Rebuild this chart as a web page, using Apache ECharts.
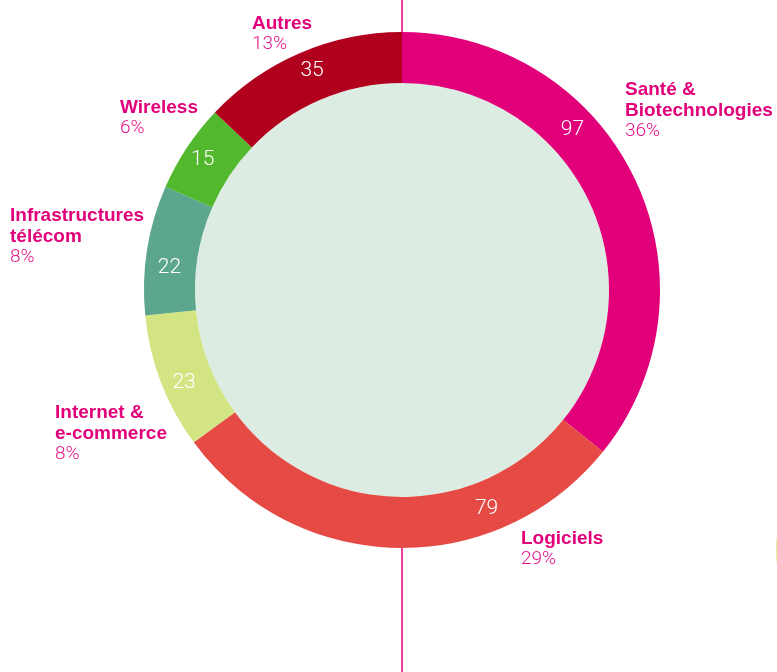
<!DOCTYPE html>
<html>
<head>
<meta charset="utf-8">
<script src="https://cdn.jsdelivr.net/npm/echarts@6/dist/echarts.min.js"></script>
<style>
    html, body { margin: 0; padding: 0; background: #fff; }
    #chart { width: 777px; height: 672px; }
</style>
</head>
<body>
<div id="chart"></div>
<script>
const categories = [
    "Santé &\nBiotechnologies",
    "Logiciels",
    "Internet &\ne-commerce",
    "Infrastructures\ntélécom",
    "Wireless",
    "Autres",
]
const values = [97, 79, 23, 22, 15, 35]
const colors = ["#e2007a", "#e64a44", "#d3e482", "#5ba68c", "#52b82e", "#b0001d"]

// hand placed label blocks (top-left), as in the original layout
const labelPos = [[625, 79], [521, 528], [55, 402], [10, 205], [120, 97], [252, 13]]
// nudges for the value labels inside the ring
const valueShift = [[-42, -59], [90, -17], [2, 9], [0, 14], [-3, 0], [3, -3]]

const total = values.reduce((a, b) => a + b, 0)
const center = [402, 290]
const radius = [207, 258]

const chart = echarts.init(document.getElementById("chart"))

const option = {
    animation: false,
    graphic: [
        {
            type: "line",
            z: -10,
            shape: { x1: center[0], y1: 0, x2: center[0], y2: 672 },
            style: { stroke: "#e2007a", lineWidth: 1.5 },
        },
        {
            type: "circle",
            z: -10,
            shape: { cx: 896, cy: 550, r: 120 },
            style: { fill: "#e2ee86" },
        },
    ],
    series: [
        {
            type: "pie",
            silent: true,
            center: center,
            radius: [0, radius[0]],
            z: 1,
            label: { show: false },
            labelLine: { show: false },
            data: [{ value: 1, itemStyle: { color: "#dcece2" } }],
        },
        {
            type: "pie",
            center: center,
            radius: radius,
            startAngle: 90,
            avoidLabelOverlap: false,
            itemStyle: { borderWidth: 0 },
            label: {
                show: true,
                position: "inside",
                formatter: "{c}",
                color: "#fff",
                fontFamily: "Roboto",
                fontWeight: 300,
                fontSize: 21,
            },
            labelLine: { show: false },
            labelLayout: function (params) {
                const s = valueShift[params.dataIndex]
                return { dx: s[0], dy: s[1] }
            },
            data: values.map((v, i) => ({
                name: categories[i],
                value: v,
                itemStyle: { color: colors[i] },
            })),
        },
        {
            type: "pie",
            silent: true,
            center: center,
            radius: radius,
            startAngle: 90,
            avoidLabelOverlap: false,
            itemStyle: { color: "rgba(0,0,0,0)", borderWidth: 0 },
            label: {
                show: true,
                position: "outside",
                formatter: function (p) {
                    const pct = Math.round((p.value / total) * 100)
                    return "{n|" + p.name + "}\n{p|" + pct + "%}"
                },
                rich: {
                    n: {
                        fontFamily: "Liberation Sans",
                        fontWeight: "bold",
                        fontSize: 19,
                        lineHeight: 21,
                        color: "#e2007a",
                        align: "left",
                    },
                    p: {
                        fontFamily: "Roboto",
                        fontWeight: 300,
                        fontSize: 19,
                        lineHeight: 21,
                        color: "#e6178a",
                        align: "left",
                    },
                },
            },
            labelLine: { show: false },
            labelLayout: function (params) {
                const pos = labelPos[params.dataIndex]
                return { x: pos[0], y: pos[1], align: "left", verticalAlign: "top" }
            },
            data: values.map((v, i) => ({ name: categories[i], value: v })),
        },
    ],
}

chart.setOption(option)
</script>
</body>
</html>
